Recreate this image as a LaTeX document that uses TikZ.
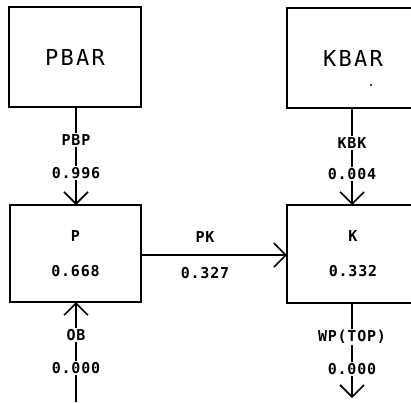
\documentclass[tikz,border=0pt]{standalone}
\usepackage{fontspec}
\newfontfamily\plotfont[LetterSpace=10]{DejaVu Sans Mono}
\newfontfamily\tagfont[LetterSpace=5]{DejaVu Sans Mono}
\usetikzlibrary{arrows.meta}
\begin{document}
\begin{tikzpicture}[x=1pt,y=-1pt,
  box/.style={draw, line width=2.6pt, outer sep=0pt, inner sep=0pt,
    minimum width=132pt, minimum height=100pt, align=center},
  bigname/.style={font=\plotfont\fontsize{22}{26}\selectfont},
  smallname/.style={font=\tagfont\bfseries\fontsize{15}{35}\selectfont},
  flow/.style={line width=1.5pt, -{Straight Barb[length=12pt,width=24pt,line width=1.6pt]}},
  lbl/.style={fill=white, inner sep=1.5pt, font=\tagfont\bfseries\fontsize{15}{16}\selectfont}]
\clip (0,0) rectangle (411,402);

% pools
\node[box, bigname] (pbar) at (75,57) {PBAR};
\node[box, bigname] (kbar) at (353,58) {KBAR};
\node[box, smallname, minimum width=131pt, minimum height=97pt] (p) at (75.5,253.5) {P\\0.668};
\node[box, smallname, minimum height=98pt] (k) at (353,254) {K\\0.332};
\fill (371,85) circle (1.2pt);

% free ends of the open flows
\coordinate (obend) at (76,402);
\coordinate (wpend) at (352,398);

% flows
\draw[flow] (pbar.south -| 76,0) -- (p.north -| 76,0);
\draw[flow] (kbar.south -| 352,0) -- (k.north -| 352,0);
\draw[flow, line width=2pt] (p.east |- 0,255) -- (k.west |- 0,255);
\draw[flow] (obend) -- (p.south -| 76,0);
\draw[flow] (k.south -| 352,0) -- (wpend);

% flow labels
\node[lbl] (lpbp) at (76,140) {PBP};
\node[lbl] (vpbp) at (76,173) {0.996};
\node[lbl] (lkbk) at (352,143) {KBK};
\node[lbl] (vkbk) at (352,174) {0.004};
\node[lbl, fill=none] (lpk) at (205,237) {PK};
\node[lbl, fill=none] (vpk) at (205,273) {0.327};
\node[lbl] (lob) at (76,335) {OB};
\node[lbl] (vob) at (76,368) {0.000};
\node[lbl] (lwp) at (352,337) {WP(TOP)};
\node[lbl] (vwp) at (352,369) {0.000};
\end{tikzpicture}
\end{document}
